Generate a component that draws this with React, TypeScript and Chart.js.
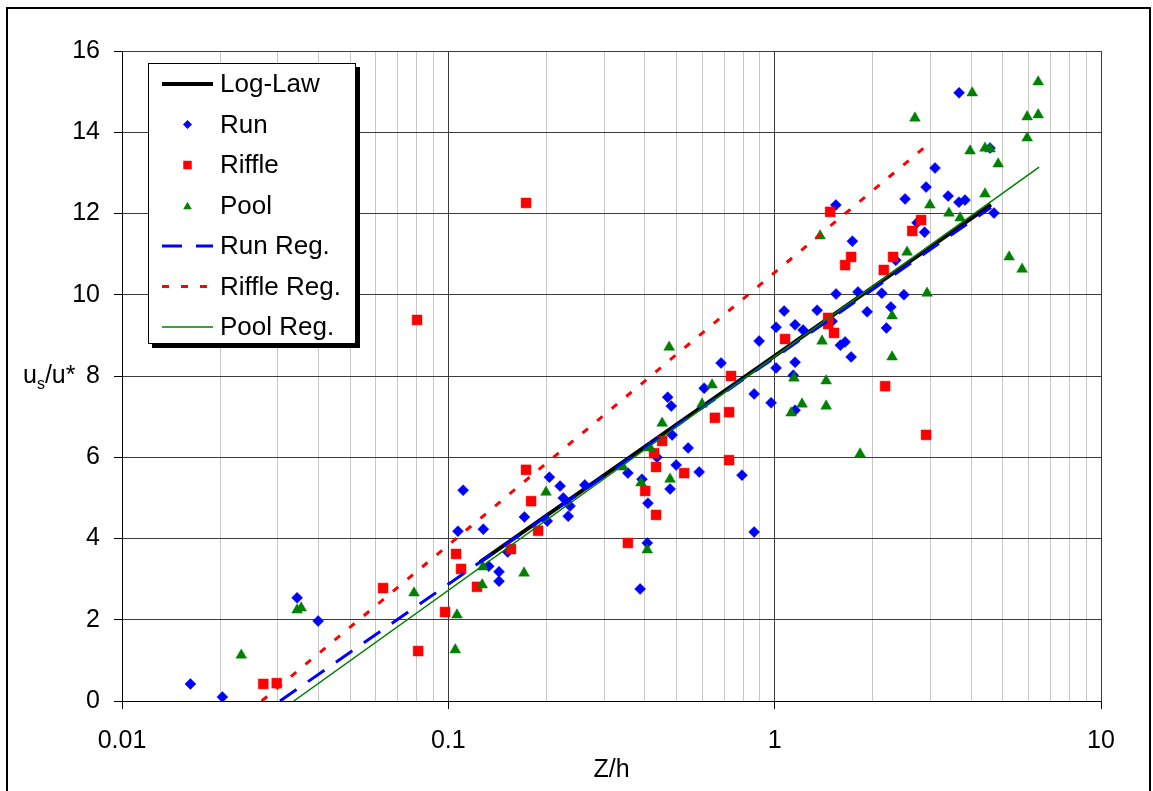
import React, { useEffect, useRef } from 'react';
import { Chart, registerables } from 'chart.js';

Chart.register(...registerables);

const FONT = 'Arial, "Liberation Sans", Helvetica, sans-serif';

// ---- Data ----
const X_TICK_LABELS = ['0.01', '0.1', '1', '10'];
const Y_TICK_STEP = 2;

const RUN_X = [0.0162, 0.0203, 0.0344, 0.0399, 0.107, 0.111, 0.128, 0.133, 0.143, 0.143, 0.152, 0.171, 0.201, 0.204, 0.22, 0.225, 0.236, 0.233, 0.262, 0.355, 0.392, 0.409, 0.407, 0.387, 0.47, 0.482, 0.485, 0.543, 0.499, 0.478, 0.587, 0.436, 0.608, 0.685, 0.865, 0.975, 0.896, 1.01, 1.01, 1.069, 1.155, 1.222, 1.155, 1.14, 1.155, 1.349, 1.542, 1.5, 1.644, 1.59, 1.715, 1.8, 1.92, 2.13, 2.27, 2.2, 2.49, 3.674, 3.1, 2.91, 2.51, 3.4, 3.67, 3.83, 4.7, 4.57, 1.73, 2.73, 2.88, 1.54, 0.865, 0.794, 2.35];
const RUN_Y = [0.42, 0.1, 2.54, 1.97, 4.18, 5.19, 4.23, 3.32, 3.18, 2.95, 3.67, 4.53, 4.43, 5.51, 5.29, 5.0, 4.8, 4.55, 5.32, 5.61, 5.46, 4.87, 3.89, 2.76, 7.48, 7.26, 6.55, 6.23, 5.81, 5.22, 5.64, 6.0, 7.7, 8.32, 7.56, 7.34, 8.86, 9.2, 8.2, 9.6, 9.26, 9.13, 8.34, 8.02, 7.16, 9.62, 10.02, 9.35, 8.84, 8.76, 8.47, 10.07, 9.58, 10.04, 9.7, 9.18, 10.0, 14.97, 13.12, 12.65, 12.36, 12.43, 12.28, 12.33, 12.01, 13.61, 11.32, 11.77, 11.54, 12.21, 4.16, 5.56, 10.85];

const RIFFLE_X = [0.0271, 0.0298, 0.0631, 0.0808, 0.0977, 0.0802, 0.173, 0.1056, 0.1094, 0.1224, 0.1556, 0.173, 0.1793, 0.1884, 0.355, 0.401, 0.433, 0.433, 0.427, 0.452, 0.528, 0.656, 0.735, 0.725, 0.725, 1.076, 1.458, 1.458, 1.52, 1.715, 1.644, 2.16, 2.306, 2.18, 2.91, 2.81, 2.64, 1.479];
const RIFFLE_Y = [0.42, 0.44, 2.78, 1.23, 2.19, 9.38, 12.26, 3.62, 3.25, 2.81, 3.74, 5.69, 4.92, 4.19, 3.89, 5.17, 4.58, 5.76, 6.1, 6.4, 5.61, 6.97, 8.0, 7.11, 5.93, 8.91, 9.43, 9.28, 9.06, 10.93, 10.73, 10.61, 10.93, 7.75, 6.55, 11.84, 11.57, 12.04];

const POOL_X = [0.0232, 0.0344, 0.0354, 0.0785, 0.1063, 0.105, 0.127, 0.1276, 0.1706, 0.1992, 0.407, 0.3895, 0.478, 0.452, 0.415, 0.343, 0.475, 0.643, 0.599, 1.397, 1.146, 1.438, 1.213, 1.123, 1.438, 1.827, 2.29, 2.29, 2.93, 2.69, 4.03, 6.42, 5.94, 6.42, 5.94, 3.97, 4.41, 4.57, 4.84, 4.41, 2.99, 3.42, 3.7, 2.545, 5.23, 5.73, 1.378];
const POOL_Y = [1.13, 2.24, 2.29, 2.66, 2.12, 1.26, 2.86, 3.3, 3.15, 5.14, 3.72, 5.37, 5.46, 6.84, 6.23, 5.76, 8.71, 7.78, 7.31, 8.86, 7.95, 7.88, 7.31, 7.09, 7.26, 6.08, 9.48, 8.47, 10.04, 14.35, 14.97, 15.24, 14.38, 14.43, 13.86, 13.54, 13.61, 13.59, 13.22, 12.48, 12.21, 12.01, 11.89, 11.05, 10.93, 10.63, 11.45];

const LOGLAW_X = [0.125, 4.6];
const LOGLAW_Y = [3.42, 12.22];
const RUNREG_X = [0.0305, 4.6];
const RUNREG_Y = [0, 12.15];
const RIFFLEREG_X = [0.0268, 2.95];
const RIFFLEREG_Y = [0, 13.7];
const POOLREG_X = [0.0336, 6.46];
const POOLREG_Y = [0, 13.14];

const pts = (xs: number[], ys: number[]) => xs.map((x, i) => ({ x, y: ys[i] }));

const isMajor = (v: number) => {
  const l = Math.log10(v);
  return Math.abs(l - Math.round(l)) < 1e-6;
};

type LegendKind = 'line' | 'diamond' | 'square' | 'triangle';

function drawMarker(ctx: CanvasRenderingContext2D, kind: LegendKind, x: number, y: number, r: number, color: string) {
  ctx.fillStyle = color;
  ctx.beginPath();
  if (kind === 'diamond') {
    ctx.moveTo(x - r, y);
    ctx.lineTo(x, y - r);
    ctx.lineTo(x + r, y);
    ctx.lineTo(x, y + r);
  } else if (kind === 'square') {
    const s = r * Math.SQRT1_2;
    ctx.rect(x - s, y - s, 2 * s, 2 * s);
  } else if (kind === 'triangle') {
    for (let k = 0; k < 3; k++) {
      const a = (k * 2 * Math.PI) / 3;
      const px = x + Math.sin(a) * r;
      const py = y - Math.cos(a) * r + r * 0.25;
      if (k === 0) ctx.moveTo(px, py);
      else ctx.lineTo(px, py);
    }
  }
  ctx.closePath();
  ctx.fill();
}

const decorPlugin = {
  id: 'decor',
  beforeDraw(chart: any) {
    const ctx = chart.ctx as CanvasRenderingContext2D;
    ctx.save();
    ctx.fillStyle = '#ffffff';
    ctx.fillRect(0, 0, chart.width, chart.height);
    ctx.restore();
  },
  afterDraw(chart: any) {
    const ctx = chart.ctx as CanvasRenderingContext2D;
    ctx.save();
    // outer frame
    ctx.fillStyle = '#000';
    ctx.fillRect(6, 7, 2, 800);
    ctx.fillRect(6, 7, 1145, 2);
    ctx.fillRect(1149, 7, 2, 800);

    // x title
    const area = chart.chartArea;
    ctx.font = `25px ${FONT}`;
    ctx.fillStyle = '#000';
    ctx.textAlign = 'center';
    ctx.textBaseline = 'alphabetic';
    ctx.fillText('Z/h', (area.left + area.right) / 2, 777);

    // y title u_s/u*
    ctx.textAlign = 'left';
    let tx = 23;
    const by = 383;
    ctx.font = `25px ${FONT}`;
    ctx.fillText('u', tx, by);
    tx += ctx.measureText('u').width;
    ctx.font = `16px ${FONT}`;
    ctx.fillText('s', tx, by + 6);
    tx += ctx.measureText('s').width;
    ctx.font = `25px ${FONT}`;
    ctx.fillText('/u*', tx, by);

    // legend
    const bx = 148, bY = 63, bw = 208, bh = 281;
    ctx.fillStyle = '#000';
    ctx.fillRect(bx + 4, bY + 4, bw, bh);
    ctx.fillStyle = '#fff';
    ctx.fillRect(bx, bY, bw, bh);
    ctx.strokeStyle = '#000';
    ctx.lineWidth = 1;
    ctx.strokeRect(bx + 0.5, bY + 0.5, bw - 1, bh - 1);

    const datasets = chart.data.datasets;
    const rows = [84, 124.5, 165, 205.5, 246, 286.5, 327];
    ctx.font = `26px ${FONT}`;
    ctx.textBaseline = 'middle';
    datasets.forEach((ds: any, i: number) => {
      const y = rows[i];
      const kind: LegendKind = ds.legendKind;
      if (kind === 'line') {
        ctx.save();
        ctx.strokeStyle = ds.borderColor;
        ctx.lineWidth = ds.borderWidth;
        ctx.setLineDash(ds.borderDash || []);
        ctx.beginPath();
        ctx.moveTo(162, y);
        ctx.lineTo(213, y);
        ctx.stroke();
        ctx.restore();
      } else {
        drawMarker(ctx, kind, 187.5, y, kind === 'square' ? 6 : kind === 'diamond' ? 4.5 : 5, ds.backgroundColor);
      }
      ctx.fillStyle = '#000';
      ctx.textAlign = 'left';
      ctx.fillText(ds.label, 220, y + 1);
    });
    ctx.restore();
  },
};

export default function App() {
  const ref = useRef<HTMLCanvasElement | null>(null);

  useEffect(() => {
    if (!ref.current) return;
    const lineDs = (label: string, xs: number[], ys: number[], color: string, width: number, dash: number[], order: number) => ({
      label,
      data: pts(xs, ys),
      showLine: true,
      borderColor: color,
      backgroundColor: color,
      borderWidth: width,
      borderDash: dash,
      pointRadius: 0,
      pointHoverRadius: 0,
      fill: false,
      tension: 0,
      order,
      legendKind: 'line',
    });
    const pointDs = (label: string, xs: number[], ys: number[], color: string, style: string, radius: number, kind: string, order: number) => ({
      label,
      data: pts(xs, ys),
      showLine: false,
      pointStyle: style,
      pointRadius: radius,
      pointHoverRadius: radius,
      pointBackgroundColor: color,
      pointBorderColor: color,
      pointBorderWidth: 0.5,
      backgroundColor: color,
      borderColor: color,
      order,
      legendKind: kind,
    });

    const chart = new Chart(ref.current, {
      type: 'scatter',
      data: {
        datasets: [
          lineDs('Log-Law', LOGLAW_X, LOGLAW_Y, '#000000', 4, [], 7),
          pointDs('Run', RUN_X, RUN_Y, '#0000FF', 'rectRot', 5.5, 'diamond', 6),
          pointDs('Riffle', RIFFLE_X, RIFFLE_Y, '#FF0000', 'rect', 7, 'square', 5),
          pointDs('Pool', POOL_X, POOL_Y, '#008000', 'triangle', 6.2, 'triangle', 4),
          lineDs('Run Reg.', RUNREG_X, RUNREG_Y, '#0000FF', 3, [20, 14], 3),
          lineDs('Riffle Reg.', RIFFLEREG_X, RIFFLEREG_Y, '#FF0000', 3, [7, 12], 2),
          lineDs('Pool Reg.', POOLREG_X, POOLREG_Y, '#008000', 1.5, [], 1),
        ] as any,
      },
      options: {
        responsive: false,
        animation: false,
        events: [],
        layout: { padding: { top: 51, right: 52, left: 0, bottom: 0 } },
        plugins: {
          legend: { display: false },
          tooltip: { enabled: false },
        },
        scales: {
          x: {
            type: 'logarithmic',
            position: 'bottom',
            min: 0.01,
            max: 10,
            afterBuildTicks: (scale: any) => {
              const t: { value: number }[] = [];
              for (let e = -2; e <= 0; e++) {
                for (let m = 1; m <= 9; m++) t.push({ value: m * Math.pow(10, e) });
              }
              t.push({ value: 10 });
              scale.ticks = t;
            },
            afterFit: (scale: any) => {
              scale.height = 90;
            },
            ticks: {
              autoSkip: false,
              maxRotation: 0,
              minRotation: 0,
              padding: 17,
              color: '#000',
              font: { family: FONT, size: 25 },
              callback: (value: any) => {
                const v = Number(value);
                if (!isMajor(v)) return '';
                return X_TICK_LABELS[Math.round(Math.log10(v)) + 2];
              },
            },
            grid: {
              color: (c: any) => (c.tick && isMajor(c.tick.value) ? '#3c3c3c' : '#c8c8c8'),
              tickColor: (c: any) => (c.tick && isMajor(c.tick.value) ? '#000' : 'rgba(0,0,0,0)'),
              tickLength: 8,
              lineWidth: 1,
            },
            border: { color: '#000', width: 1 },
          },
          y: {
            type: 'linear',
            min: 0,
            max: 16,
            afterFit: (scale: any) => {
              scale.width = 122;
            },
            ticks: {
              stepSize: Y_TICK_STEP,
              padding: 14,
              color: '#000',
              font: { family: FONT, size: 25 },
            },
            grid: {
              color: '#3c3c3c',
              tickColor: '#000',
              tickLength: 8,
              lineWidth: 1,
            },
            border: { color: '#000', width: 1 },
          },
        },
      } as any,
      plugins: [decorPlugin],
    });
    return () => chart.destroy();
  }, []);

  return (
    <div style={{ position: 'fixed', left: 0, top: 0, width: 1153, height: 791, background: '#fff' }}>
      <canvas ref={ref} width={1153} height={791} style={{ display: 'block' }} />
    </div>
  );
}
